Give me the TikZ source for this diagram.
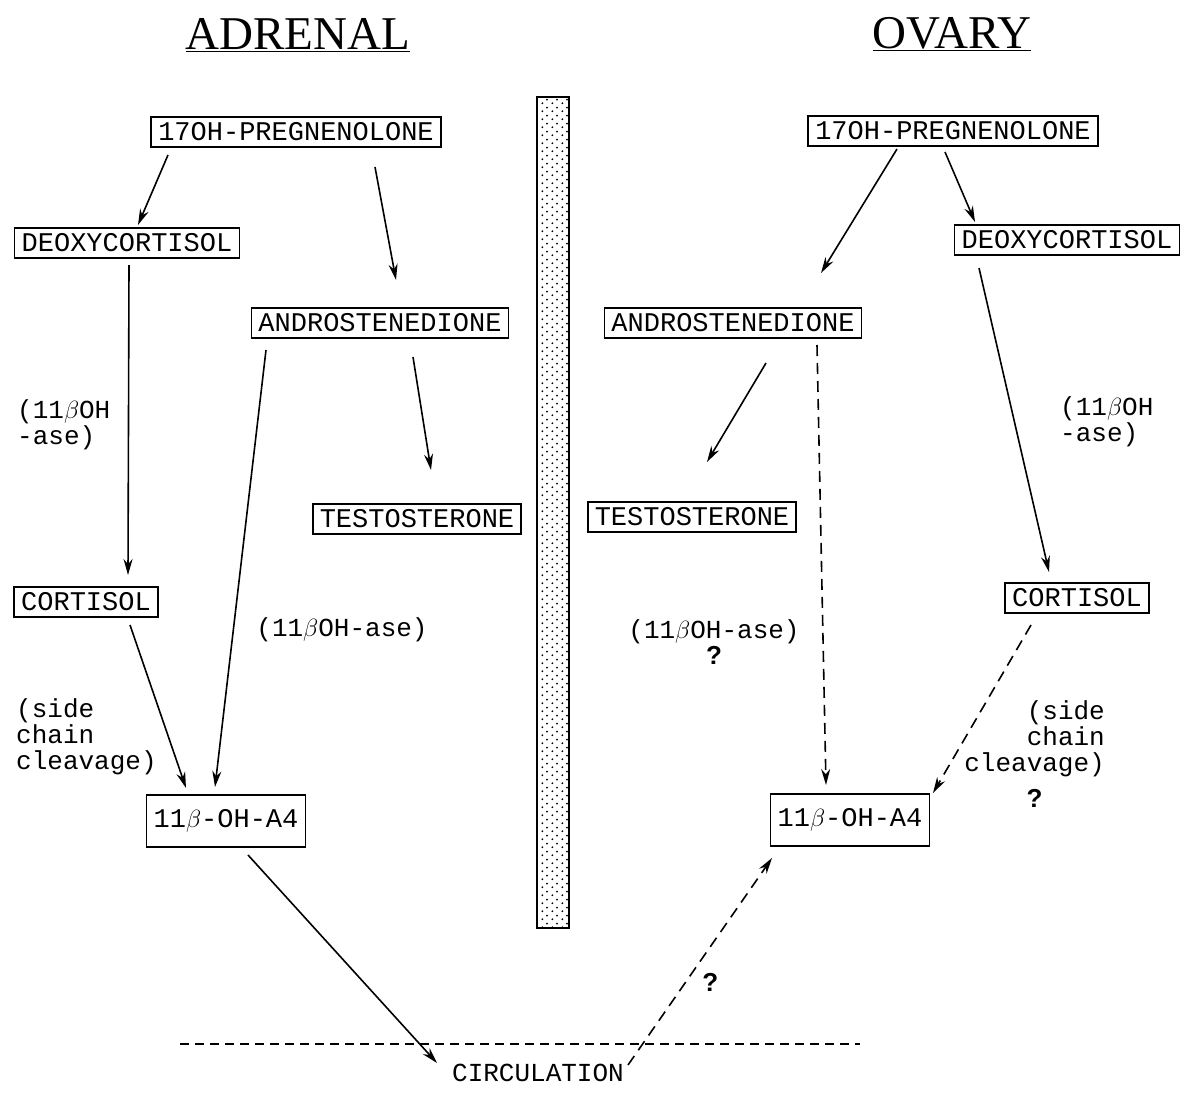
\documentclass[tikz,border=0pt]{standalone}
\usepackage{fontspec}
\usepackage{tikz}
\usetikzlibrary{arrows.meta,positioning,patterns.meta}
\setmainfont{Liberation Serif}
\newfontfamily\monofont{Liberation Mono}
\newfontfamily\qfont{Liberation Sans}

\tikzdeclarepattern{
  name=bardots,
  type=uncolored,
  bounding box={(0pt,0pt) and (10pt,8pt)},
  tile size={(10pt,8pt)},
  code={
    \fill (2.5pt,2pt) circle (1.1pt);
    \fill (7.5pt,6pt) circle (1.1pt);
  }
}

\begin{document}
\begin{tikzpicture}[
    x=1pt, y=-1pt,
    chem/.style={draw, line width=1.6pt, font=\fontsize{27}{26}\monofont, minimum height=30pt, inner xsep=7pt, inner ysep=2pt},
    hydroxy/.style={chem, minimum height=52pt},
    note/.style={font=\fontsize{26}{26}\monofont, inner sep=0pt},
    title/.style={font=\fontsize{47}{50}\selectfont},
    qmark/.style={font=\fontsize{26}{26}\qfont\bfseries, inner sep=0pt},
    arrow/.style={line width=1.6pt,-{Stealth[length=16pt,width=9pt]}},
    dasharrow/.style={arrow, dash pattern=on 11pt off 7pt}
]
    \useasboundingbox (0,0) rectangle (1185,1097);

    % titles and the dividing bar
    \node[title] (adrenal) at (298,35) {\underline{ADRENAL}};
    \node[title] (ovary) at (952,34) {\underline{OVARY}};
    \draw[line width=1.6pt, pattern=bardots] (537,97) rectangle (569,928);

    % adrenal side
    \node[chem] (pregL) at (296,132) {17OH-PREGNENOLONE};
    \node[chem] (deoxL) at (127,243) {DEOXYCORTISOL};
    \node[chem] (andrL) at (380,323) {ANDROSTENEDIONE};
    \node[chem] (testL) at (417,519) {TESTOSTERONE};
    \node[chem] (cortL) at (86,602) {CORTISOL};
    \node[hydroxy, minimum width=152pt] (ohL) at (226,821) {11$\beta$-OH-A4};

    % ovary side
    \node[chem] (pregR) at (953,131) {17OH-PREGNENOLONE};
    \node[chem] (deoxR) at (1067,240) {DEOXYCORTISOL};
    \node[chem] (andrR) at (733,323) {ANDROSTENEDIONE};
    \node[chem] (testR) at (692,517) {TESTOSTERONE};
    \node[chem] (cortR) at (1077,598) {CORTISOL};
    \node[hydroxy, minimum width=156pt] (ohR) at (850,820) {11$\beta$-OH-A4};

    \node[note] (circ) at (538,1073) {CIRCULATION};
    \draw[line width=1.6pt, dash pattern=on 9pt off 6pt] (180,1044) -- (860,1044);

    % enzyme labels
    \node[note, align=left, anchor=west] (hydL) at (17,425) {(11$\beta$OH\\-ase)};
    \node[note] (hydAL) at (342,630) {(11$\beta$OH-ase)};
    \node[note, align=left, anchor=west] (sccL) at (16,737) {(side\\chain\\cleavage)};
    \node[note, align=left, anchor=west] (hydR) at (1060,422) {(11$\beta$OH\\-ase)};
    \node[note, align=center] (hydAR) at (714,642) {(11$\beta$OH-ase)\\{\qfont\bfseries ?}};
    \node[note, align=right, anchor=east] (sccR) at (1105,739) {(side\\chain\\cleavage)};
    \node[qmark, below=12pt of sccR] (sccQ) {?};

    % adrenal arrows
    \draw[arrow] ([shift={(-128,23)}]pregL.center) -- ([shift={(11,-18)}]deoxL.center);
    \draw[arrow] ([shift={(79,35)}]pregL.center) -- ([shift={(16,-43)}]andrL.center);
    \draw[arrow] ([shift={(2,22)}]deoxL.center) -- ([shift={(42,-27)}]cortL.center);
    \draw[arrow] ([shift={(33,34)}]andrL.center) -- ([shift={(14,-49)}]testL.center);
    \draw[arrow] ([shift={(-114,27)}]andrL.center) -- ([shift={(-11,-34)}]ohL.center);
    \draw[arrow] ([shift={(44,23)}]cortL.center) -- ([shift={(-40,-33)}]ohL.center);
    \draw[arrow] ([shift={(22,34)}]ohL.center) -- ([shift={(-101,-10)}]circ.center);

    % ovary arrows
    \draw[arrow] ([shift={(-56,18)}]pregR.center) -- ([shift={(88,-50)}]andrR.center);
    \draw[arrow] ([shift={(-8,21)}]pregR.center) -- ([shift={(-92,-18)}]deoxR.center);
    \draw[arrow] ([shift={(-88,28)}]deoxR.center) -- ([shift={(-28,-26)}]cortR.center);
    \draw[arrow] ([shift={(33,40)}]andrR.center) -- ([shift={(15,-55)}]testR.center);
    \draw[dasharrow] ([shift={(84,22)}]andrR.center) -- ([shift={(-24,-35)}]ohR.center);
    \draw[dasharrow] ([shift={(-46,27)}]cortR.center) -- ([shift={(83,-27)}]ohR.center);
    \draw[dasharrow] ([shift={(90,-8)}]circ.center) -- node[qmark, pos=0.4, right=16pt] (circQ) {?} ([shift={(-78,38)}]ohR.center);
\end{tikzpicture}
\end{document}
